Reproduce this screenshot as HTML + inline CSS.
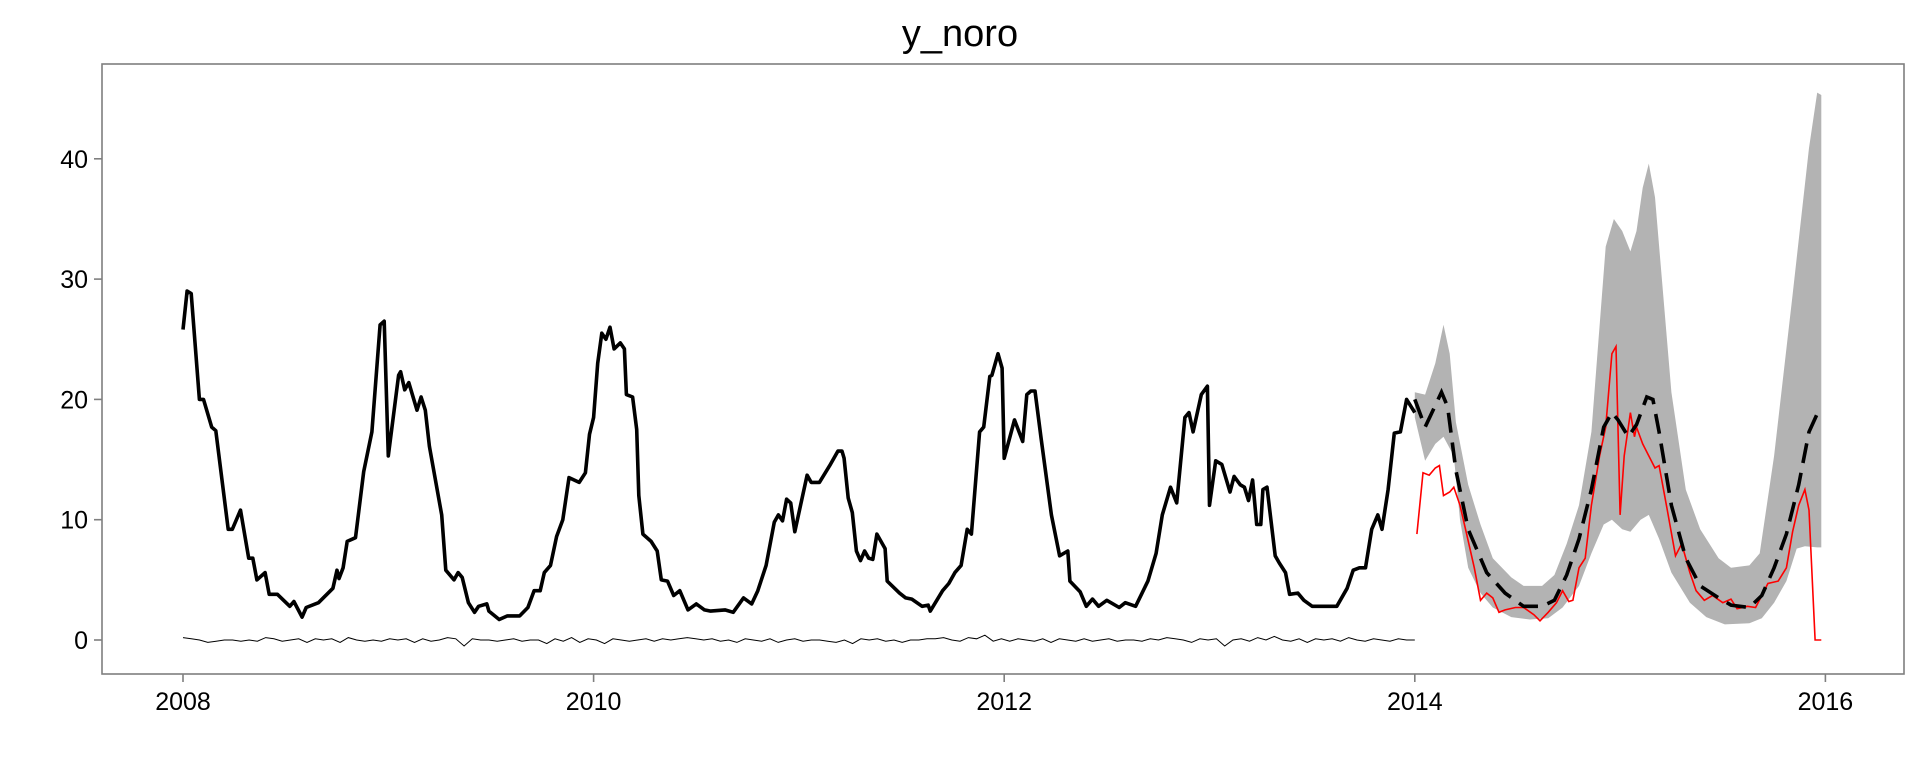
<!DOCTYPE html>
<html><head><meta charset="utf-8"><style>
html,body{margin:0;padding:0;background:#fff;}
svg{display:block;font-family:"Liberation Sans",Arial,sans-serif;}
</style></head><body>
<svg id="chart" width="1920" height="768" viewBox="0 0 1920 768" xmlns="http://www.w3.org/2000/svg">
<rect width="1920" height="768" fill="#fff"/>
<text x="960" y="46" font-size="38" text-anchor="middle" fill="#000">y_noro</text>
<g id="band"></g>
<g id="lines"></g>
<rect x="102" y="64" width="1802" height="610" fill="none" stroke="#7f7f7f" stroke-width="1.6"/>
<g id="axes"></g>
</svg>
<script>
const xTicks = [2008, 2010, 2012, 2014, 2016];
const yTicks = [0, 10, 20, 30, 40];
const obsT = [2008.0,2008.02,2008.04,2008.08,2008.10,2008.14,2008.16,2008.22,2008.24,2008.28,2008.32,2008.34,2008.36,2008.40,2008.42,2008.46,2008.52,2008.54,2008.58,2008.60,2008.66,2008.73,2008.75,2008.76,2008.78,2008.80,2008.84,2008.88,2008.92,2008.96,2008.98,2009.00,2009.05,2009.06,2009.08,2009.10,2009.14,2009.16,2009.18,2009.20,2009.26,2009.28,2009.32,2009.34,2009.36,2009.39,2009.42,2009.44,2009.48,2009.49,2009.54,2009.58,2009.64,2009.68,2009.71,2009.74,2009.76,2009.79,2009.82,2009.85,2009.88,2009.93,2009.96,2009.98,2010.00,2010.02,2010.04,2010.06,2010.08,2010.10,2010.13,2010.15,2010.16,2010.19,2010.21,2010.22,2010.24,2010.28,2010.31,2010.33,2010.36,2010.39,2010.42,2010.46,2010.50,2010.54,2010.57,2010.64,2010.68,2010.73,2010.77,2010.80,2010.84,2010.88,2010.90,2010.92,2010.94,2010.96,2010.98,2011.04,2011.06,2011.10,2011.15,2011.19,2011.21,2011.22,2011.24,2011.26,2011.28,2011.30,2011.32,2011.34,2011.36,2011.38,2011.42,2011.43,2011.49,2011.52,2011.55,2011.60,2011.63,2011.64,2011.70,2011.73,2011.76,2011.79,2011.82,2011.84,2011.88,2011.90,2011.93,2011.94,2011.97,2011.99,2012.00,2012.05,2012.09,2012.11,2012.13,2012.15,2012.18,2012.23,2012.27,2012.31,2012.32,2012.37,2012.40,2012.43,2012.46,2012.50,2012.56,2012.59,2012.64,2012.70,2012.74,2012.77,2012.81,2012.84,2012.88,2012.90,2012.92,2012.96,2012.99,2013.00,2013.03,2013.06,2013.10,2013.12,2013.15,2013.17,2013.19,2013.21,2013.23,2013.25,2013.26,2013.28,2013.32,2013.34,2013.37,2013.39,2013.43,2013.46,2013.50,2013.62,2013.67,2013.70,2013.73,2013.76,2013.79,2013.82,2013.84,2013.87,2013.90,2013.93,2013.96,2014.00];
const obsV = [25.8,29,28.8,20,20,17.7,17.4,9.2,9.2,10.8,6.8,6.8,5.0,5.6,3.8,3.8,2.8,3.2,1.9,2.7,3.1,4.3,5.8,5.1,6.0,8.2,8.5,14,17.3,26.2,26.5,15.3,22,22.3,20.8,21.4,19.1,20.2,19.1,16.1,10.4,5.8,5,5.6,5.2,3.1,2.3,2.8,3.0,2.4,1.7,2.0,2.0,2.7,4.1,4.1,5.6,6.2,8.6,10,13.5,13.1,13.9,17.1,18.5,23,25.5,25,26,24.2,24.7,24.2,20.4,20.2,17.5,12,8.8,8.2,7.4,5.0,4.9,3.7,4.1,2.5,3,2.5,2.4,2.5,2.3,3.5,3.0,4.1,6.2,9.8,10.4,9.9,11.7,11.4,9,13.7,13.1,13.1,14.5,15.7,15.7,15.1,11.8,10.6,7.4,6.6,7.4,6.8,6.7,8.8,7.6,4.9,3.9,3.5,3.4,2.8,2.9,2.4,4.1,4.7,5.6,6.2,9.2,8.8,17.3,17.7,21.9,22,23.8,22.6,15.1,18.3,16.5,20.4,20.7,20.7,16.7,10.4,7,7.4,4.9,4.0,2.8,3.4,2.8,3.3,2.7,3.1,2.8,4.9,7.2,10.4,12.7,11.4,18.5,18.9,17.3,20.4,21.1,11.2,14.9,14.6,12.3,13.6,12.9,12.7,11.6,13.3,9.6,9.6,12.5,12.7,7,6.4,5.6,3.8,3.9,3.3,2.8,2.8,4.3,5.8,6.0,6.0,9.2,10.4,9.2,12.5,17.2,17.3,20,18.9];
const residStart = 2008.0, residEnd = 2014.0;
const residV = [0.2,0.1,0.0,-0.2,-0.1,0.0,0.0,-0.1,0.0,-0.1,0.2,0.1,-0.1,0.0,0.1,-0.2,0.1,0.0,0.1,-0.2,0.2,0.0,-0.1,0.0,-0.1,0.1,0.0,0.1,-0.2,0.1,-0.1,0.0,0.2,0.1,-0.5,0.1,0.0,0.0,-0.1,0.0,0.1,-0.1,0.0,0.0,-0.3,0.1,-0.1,0.2,-0.2,0.1,0.0,-0.3,0.1,0.0,-0.1,0.0,0.1,-0.1,0.1,0.0,0.1,0.2,0.1,0.0,0.1,-0.1,0.0,-0.2,0.1,0.0,-0.1,0.1,-0.2,0.0,0.1,-0.1,0.0,0.0,-0.1,-0.2,0.0,-0.3,0.1,0.0,0.1,-0.1,0.0,-0.2,0.0,0.0,0.1,0.1,0.2,0.0,-0.1,0.2,0.1,0.4,-0.1,0.1,-0.1,0.1,0.0,-0.1,0.1,-0.2,0.1,0.0,-0.1,0.1,-0.1,0.0,0.1,-0.1,0.0,0.0,-0.1,0.1,0.0,0.2,0.1,0.0,-0.2,0.1,0.0,0.1,-0.5,0.0,0.1,-0.1,0.2,0.0,0.3,0.0,-0.1,0.1,-0.2,0.1,0.0,0.1,-0.1,0.2,0.0,-0.1,0.1,0.0,-0.1,0.1,0.0,0.0];
const upT = [2014.0,2014.05,2014.10,2014.14,2014.17,2014.20,2014.26,2014.32,2014.38,2014.47,2014.53,2014.62,2014.68,2014.74,2014.80,2014.86,2014.93,2014.97,2015.01,2015.05,2015.08,2015.11,2015.14,2015.17,2015.25,2015.32,2015.39,2015.48,2015.54,2015.63,2015.68,2015.75,2015.84,2015.92,2015.96,2015.98];
const upV = [20.6,20.4,23,26.2,23.8,18.1,12.9,9.6,6.8,5.2,4.5,4.5,5.4,8,11.2,17.3,32.7,35,34,32.3,34,37.6,39.6,36.8,20.6,12.5,9.2,6.8,6,6.2,7.2,15.3,28.7,40.9,45.5,45.3];
const loT = [2014.0,2014.05,2014.10,2014.14,2014.19,2014.22,2014.26,2014.32,2014.38,2014.47,2014.56,2014.65,2014.72,2014.80,2014.86,2014.92,2014.96,2015.01,2015.05,2015.10,2015.14,2015.19,2015.25,2015.34,2015.42,2015.51,2015.63,2015.69,2015.75,2015.81,2015.86,2015.90,2015.96,2015.98];
const loV = [18.5,14.9,16.3,16.9,15.3,10,6,3.9,2.7,1.9,1.7,1.8,2.7,4.5,7.2,9.6,10,9.2,9,10,10.4,8.4,5.6,3.1,1.9,1.3,1.4,1.8,3.1,4.9,7.6,7.8,7.7,7.7];
const meanT = [2014.0,2014.05,2014.13,2014.16,2014.20,2014.26,2014.35,2014.44,2014.53,2014.62,2014.68,2014.74,2014.80,2014.86,2014.92,2014.96,2014.99,2015.04,2015.08,2015.13,2015.16,2015.19,2015.25,2015.32,2015.39,2015.48,2015.54,2015.63,2015.69,2015.75,2015.81,2015.87,2015.92,2015.96];
const meanV = [20,17.7,20.6,19.4,14.1,9.2,5.6,3.9,2.8,2.8,3.3,5.4,8.4,12.5,17.7,18.9,18.3,16.9,17.9,20.2,20,17.3,11.2,6.8,4.5,3.5,2.9,2.7,3.7,6,8.8,12.9,17.3,18.8];
const actT = [2014.01,2014.04,2014.07,2014.10,2014.12,2014.14,2014.17,2014.19,2014.22,2014.25,2014.29,2014.32,2014.35,2014.38,2014.41,2014.44,2014.49,2014.53,2014.58,2014.61,2014.65,2014.69,2014.72,2014.75,2014.77,2014.80,2014.83,2014.86,2014.90,2014.93,2014.96,2014.98,2015.00,2015.02,2015.05,2015.07,2015.08,2015.11,2015.14,2015.17,2015.19,2015.23,2015.27,2015.30,2015.34,2015.37,2015.41,2015.45,2015.50,2015.54,2015.57,2015.62,2015.66,2015.69,2015.72,2015.77,2015.81,2015.84,2015.87,2015.90,2015.92,2015.95,2015.98];
const actV = [8.8,13.9,13.7,14.3,14.5,12,12.3,12.7,11.2,9,6,3.3,3.9,3.5,2.3,2.5,2.7,2.7,2.1,1.6,2.3,3.1,4.1,3.2,3.3,6,6.8,11.2,15.3,17.7,23.8,24.4,10.4,15.3,18.9,16.9,17.7,16.3,15.3,14.3,14.5,10.8,7,8,5.6,4.1,3.3,3.7,3.1,3.4,2.6,2.8,2.7,3.7,4.7,4.9,6,9,11.2,12.5,10.8,0,0];

const NS = "http://www.w3.org/2000/svg";
function xs(t){ return 183 + (t - 2008) * 205.3; }
function ys(v){ return 640 - v * 12.03; }
function pts(T, V){ return T.map((t,i)=>xs(t).toFixed(1)+","+ys(V[i]).toFixed(1)).join(" "); }
function mk(tag, attrs, parent){ const e=document.createElementNS(NS,tag); for(const k in attrs) e.setAttribute(k,attrs[k]); parent.appendChild(e); return e; }

const band = document.getElementById("band");
const lines = document.getElementById("lines");
const axes = document.getElementById("axes");

const loRevT = loT.slice().reverse(), loRevV = loV.slice().reverse();
const bandPoly = mk("polygon", {points: pts(upT, upV) + " " + pts(loRevT, loRevV), fill:"#b3b3b3", stroke:"none"}, band);



const residT = residV.map((v,i)=> residStart + i*(residEnd-residStart)/(residV.length-1));
const resid = mk("polyline", {points: pts(residT, residV), fill:"none", stroke:"#000", "stroke-width":"1"}, lines);



const obs = mk("polyline", {points: pts(obsT, obsV), fill:"none", stroke:"#000", "stroke-width":"3.6", "stroke-linejoin":"round"}, lines);



const act = mk("polyline", {points: pts(actT, actV), fill:"none", stroke:"#ff0000", "stroke-width":"1.6"}, lines);



const mean = mk("polyline", {points: pts(meanT, meanV), fill:"none", stroke:"#000", "stroke-width":"3.6", "stroke-dasharray":"20,10"}, lines);



yTicks.forEach(v=>{
  const tk = mk("line", {x1:94, x2:102, y1:ys(v), y2:ys(v), stroke:"#7f7f7f", "stroke-width":"1.6"}, axes);
  
  
  const lb = mk("text", {x:88, y:ys(v)+9, "font-size":"25", "text-anchor":"end", fill:"#000"}, axes);
  lb.textContent = v;
  
  
});
xTicks.forEach(t=>{
  const tk = mk("line", {x1:xs(t), x2:xs(t), y1:674, y2:682, stroke:"#7f7f7f", "stroke-width":"1.6"}, axes);
  
  
  const lb = mk("text", {x:xs(t), y:710, "font-size":"25", "text-anchor":"middle", fill:"#000"}, axes);
  lb.textContent = t;
  
  
});
</script>
</body></html>
